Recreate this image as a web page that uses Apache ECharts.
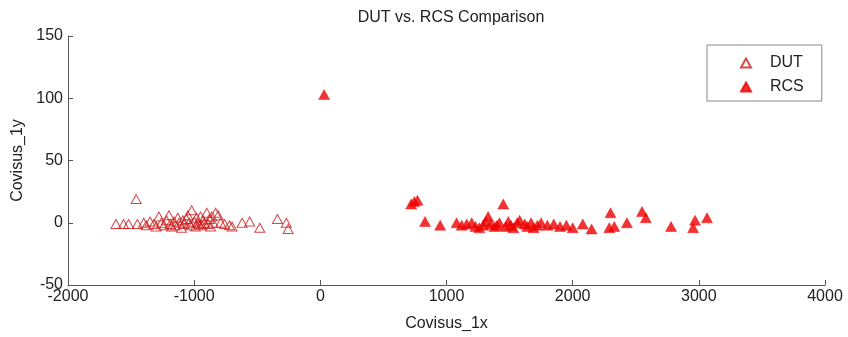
<!DOCTYPE html>
<html><head><meta charset="utf-8">
<script src="https://cdn.jsdelivr.net/npm/echarts@6/dist/echarts.min.js"></script>
<style>html,body{margin:0;padding:0;background:#fff}#c{width:848px;height:337px}</style>
</head><body><div id="c"></div>
<script>
const titleText = "DUT vs. RCS Comparison";
const xName = "Covisus_1x";
const yName = "Covisus_1y";
const xTicks = [-2000, -1000, 0, 1000, 2000, 3000, 4000];
const yTicks = [-50, 0, 50, 100, 150];

const dutX = [-1620,-1560,-1520,-1460,-1450,-1400,-1380,-1350,-1320,-1300,-1280,-1260,-1240,-1220,-1200,-1190,-1180,-1160,-1150,-1130,-1120,-1100,-1090,-1080,-1060,-1050,-1040,-1030,-1020,-1000,-990,-980,-970,-960,-950,-940,-930,-920,-900,-890,-880,-870,-860,-850,-830,-810,-790,-760,-720,-700,-620,-560,-480,-340,-270,-255];
const dutY = [-1,-1,-1,19,-1,0,-2,1,-1,-3,5,0,-2,2,6,-1,-3,1,-2,4,0,-4,2,-1,3,6,0,-2,10,1,-3,4,0,-1,5,-2,2,0,8,-1,3,-3,5,0,8,6,0,-1,-2,-3,0,1,-4,3,0,-5];
const rcsX = [30,720,745,770,830,950,1080,1120,1160,1200,1230,1260,1290,1310,1330,1350,1380,1400,1420,1450,1470,1490,1510,1530,1560,1580,1620,1640,1670,1690,1720,1750,1800,1850,1900,1950,2000,2080,2150,2290,2300,2330,2430,2550,2580,2780,2955,2970,3065];
const rcsY = [103,15,17,18,1,-2,0,-2,-1,0,-3,-4,-2,1,5,-1,-3,-2,0,15,-3,1,-2,-4,0,2,-1,-3,0,-4,-2,0,-2,-1,-3,-2,-4,-1,-5,-4,8,-3,0,9,4,-3,-4,2,4];

const zip = (a, b) => a.map((v, i) => [v, b[i]]);
const font = "'Liberation Sans', Arial, sans-serif";
const narrow = "'Liberation Sans Narrow', 'Arial Narrow', 'Liberation Sans', sans-serif";
const chart = echarts.init(document.getElementById('c'), null, {renderer: 'canvas'});
chart.setOption({
  animation: false,
  backgroundColor: '#fff',
  title: {text: titleText, left: 446, top: 5, textAlign: 'center',
    textStyle: {fontFamily: narrow, fontSize: 16, fontWeight: 'normal', color: '#222'}},
  grid: {left: 68, right: 23, top: 36, bottom: 50},
  xAxis: {type: 'value', min: xTicks[0], max: xTicks[xTicks.length-1], interval: 1000,
    name: xName, nameLocation: 'middle', nameGap: 31,
    nameTextStyle: {fontFamily: font, fontSize: 16, color: '#222'},
    axisLine: {onZero: false, lineStyle: {color: '#555', width: 1}},
    axisTick: {inside: true, length: 5, lineStyle: {color: '#555'}},
    axisLabel: {fontFamily: font, fontSize: 16, color: '#222', margin: 4,
      formatter: v => String(v)},
    splitLine: {show: false}},
  yAxis: {type: 'value', min: yTicks[0], max: yTicks[yTicks.length-1], interval: 50,
    name: yName, nameLocation: 'middle', nameGap: 42, nameRotate: 90,
    nameTextStyle: {fontFamily: font, fontSize: 16, color: '#222'},
    axisLine: {onZero: false, lineStyle: {color: '#555', width: 1}},
    axisTick: {inside: true, length: 5, lineStyle: {color: '#555'}},
    axisLabel: {fontFamily: font, fontSize: 16, color: '#222', margin: 5,
      formatter: v => String(v)},
    splitLine: {show: false}},
  legend: {orient: 'vertical', left: 707, top: 45, width: 112,
    padding: [10, 18, 6, 33], itemGap: 8, itemWidth: 10, itemHeight: 9,
    borderColor: '#888', borderWidth: 1, backgroundColor: '#fff',
    textStyle: {fontFamily: narrow, fontSize: 16, color: '#222', padding: [0, 0, 0, 14], lineHeight: 14},
    data: ['DUT', 'RCS']},
  series: [
    {name: 'DUT', type: 'scatter', symbol: 'triangle', symbolSize: [10, 9],
     itemStyle: {color: 'rgba(255,255,255,0)', borderColor: '#cc1a1a', borderWidth: 1},
     data: zip(dutX, dutY)},
    {name: 'RCS', type: 'scatter', symbol: 'triangle', symbolSize: [11, 10],
     itemStyle: {color: '#ee0000', borderColor: '#ee0000', borderWidth: 0.5},
     data: zip(rcsX, rcsY)}
  ]
});
</script></body></html>
